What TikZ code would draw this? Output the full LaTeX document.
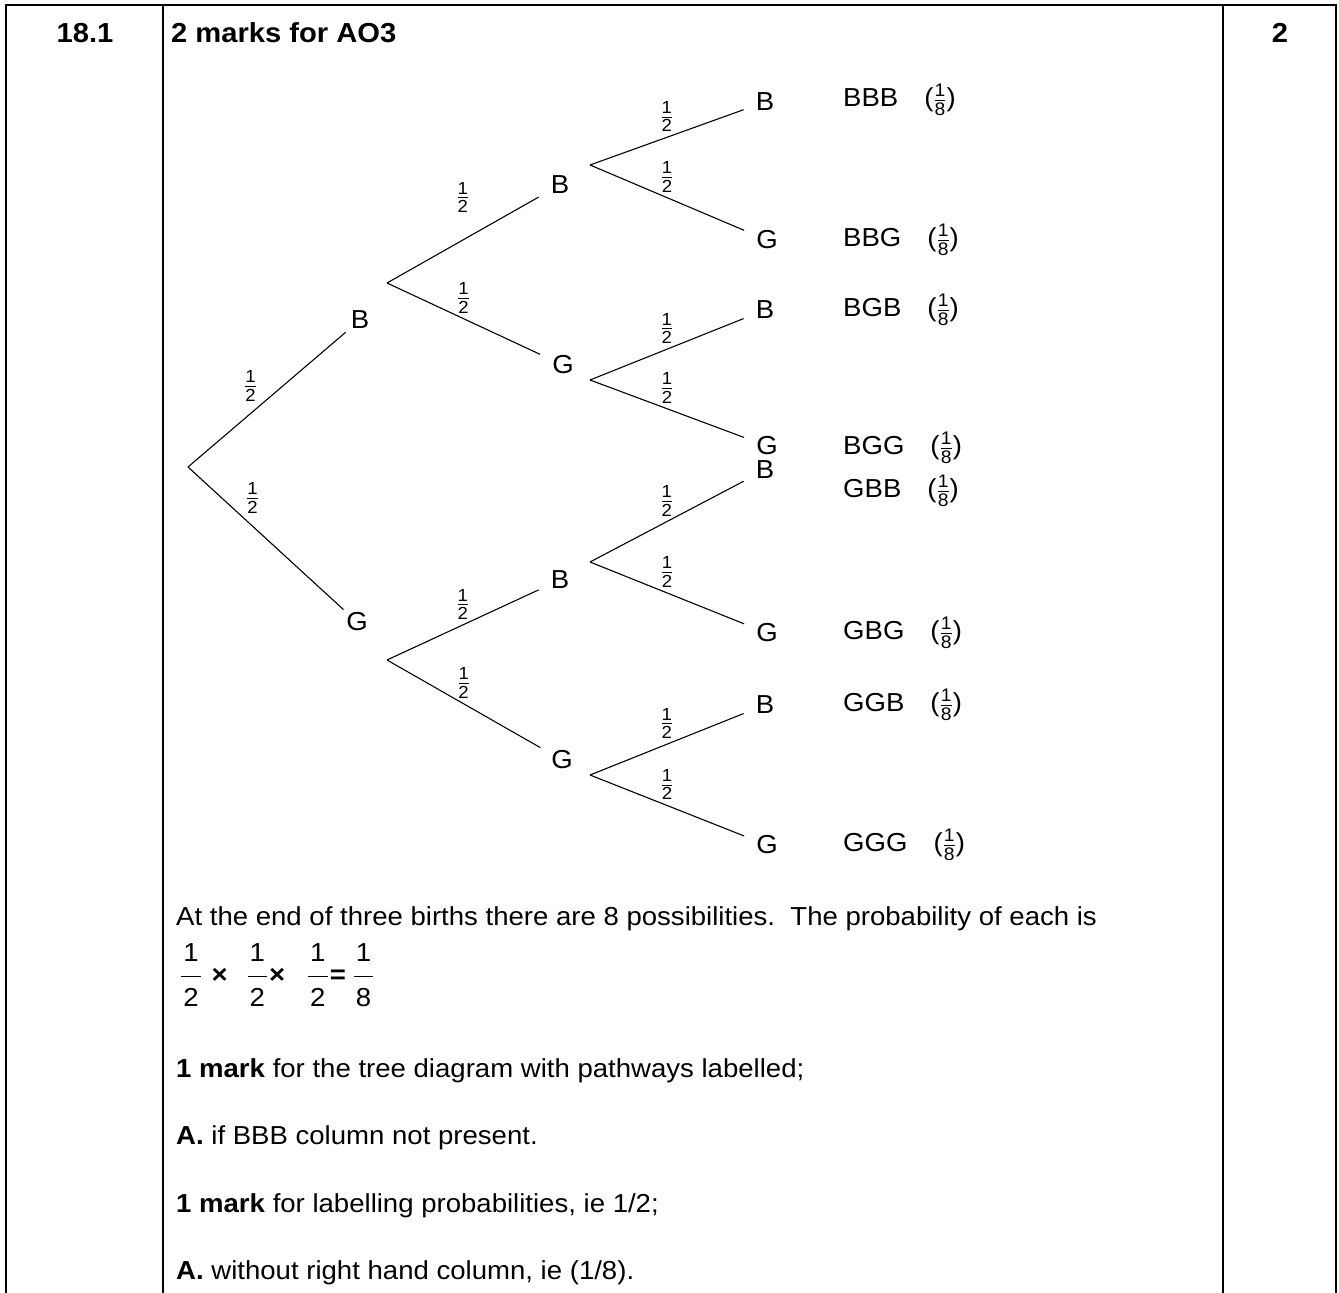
\documentclass[tikz,border=0pt]{standalone}
\usepackage{amsmath}
\usepackage{fontspec}
\setmainfont{Liberation Sans}[FakeStretch=1.06]
\usetikzlibrary{positioning}

\newcommand{\hlf}{$\frac{\text{1}}{\text{2}}$}
\newcommand{\eighth}{$\frac{\text{1}}{\text{8}}$}
\newcommand{\bigfrac}[1]{$\dfrac{\hspace{2pt}\text{1}\rule[-12pt]{0pt}{12pt}\hspace{2pt}}{\hspace{2pt}\rule{0pt}{26pt}\text{#1}\hspace{2pt}}$}

\begin{document}
\begin{tikzpicture}[
  x=1pt, y=-1pt,
  font=\fontsize{26}{31}\selectfont,
  frame/.style={line width=2.3pt},
  edge/.style={line width=1.1pt},
  lbl/.style={inner xsep=12pt, inner ysep=3pt},
  prob/.style={font=\fontsize{25}{30}\selectfont, inner sep=1pt},
  outcome/.style={anchor=west, inner sep=0pt},
  txt/.style={anchor=base west, inner sep=0pt},
  head/.style={anchor=base, inner sep=0pt, font=\fontsize{27.5}{33}\selectfont\bfseries}
]
  \useasboundingbox (0,0) rectangle (1339,1293);

  % table frame
  \draw [frame] (6,1293) -- (6,5) -- (1336,5) -- (1336,1293);
  \draw [frame] (163,5) -- (163,1293);
  \draw [frame] (1223,5) -- (1223,1293);

  \node (qnum) [head] at (85,42) {18.1};
  \node (qhead) [head, anchor=base west] at (171,42) {2 marks for AO3};
  \node (qmark) [head] at (1280,42) {2};

  % tree
  \coordinate (start) at (188,467);
  \node (b) [lbl] at (360,320) {B};
  \node (g) [lbl] at (357,622) {G};
  \coordinate (bfork) at (387,283);
  \coordinate (gfork) at (387,660);

  \node (bb) [lbl] at (560,185) {B};
  \node (bg) [lbl] at (563,365) {G};
  \node (gb) [lbl] at (560,580) {B};
  \node (gg) [lbl] at (562,760) {G};
  \coordinate (bbfork) at (590,165);
  \coordinate (bgfork) at (590,380);
  \coordinate (gbfork) at (590,562);
  \coordinate (ggfork) at (590,775);

  \node (bbb) [lbl] at (765,102) {B};
  \node (bbg) [lbl] at (767,240) {G};
  \node (bgb) [lbl] at (765,310) {B};
  \node (bgg) [lbl] at (767,446) {G};
  \node (gbb) [lbl] at (765,470) {B};
  \node (gbg) [lbl] at (767,633) {G};
  \node (ggb) [lbl] at (765,705) {B};
  \node (ggg) [lbl] at (767,845) {G};

  \draw [edge] (start) -- node [prob, pos=0.46, above left=3pt] {\hlf} (b);
  \draw [edge] (start) -- node [prob, pos=0.35, above right=3pt] {\hlf} (g);

  \draw [edge] (bfork) -- node [prob, above=26pt] {\hlf} (bb);
  \draw [edge] (bfork) -- node [prob, above=4pt] {\hlf} (bg);
  \draw [edge] (gfork) -- node [prob, above=4pt] {\hlf} (gb);
  \draw [edge] (gfork) -- node [prob, above=4pt] {\hlf} (gg);

  \draw [edge] (bbfork) -- node [prob, above=4pt] {\hlf} (bbb);
  \draw [edge] (bbfork) -- node [prob, above=4pt] {\hlf} (bbg);
  \draw [edge] (bgfork) -- node [prob, above=4pt] {\hlf} (bgb);
  \draw [edge] (bgfork) -- node [prob, above=4pt] {\hlf} (bgg);
  \draw [edge] (gbfork) -- node [prob, above=4pt] {\hlf} (gbb);
  \draw [edge] (gbfork) -- node [prob, above=4pt] {\hlf} (gbg);
  \draw [edge] (ggfork) -- node [prob, above=4pt] {\hlf} (ggb);
  \draw [edge] (ggfork) -- node [prob, above=4pt] {\hlf} (ggg);

  % outcomes
  \node (obbb) [outcome] at (843,100) {BBB\hspace{26pt}(\eighth)};
  \node (obbg) [outcome] at (843,240) {BBG\hspace{26pt}(\eighth)};
  \node (obgb) [outcome] at (843,310) {BGB\hspace{26pt}(\eighth)};
  \node (obgg) [outcome] at (843,448) {BGG\hspace{26pt}(\eighth)};
  \node (ogbb) [outcome] at (843,491) {GBB\hspace{26pt}(\eighth)};
  \node (ogbg) [outcome] at (843,633) {GBG\hspace{26pt}(\eighth)};
  \node (oggb) [outcome] at (843,705) {GGB\hspace{26pt}(\eighth)};
  \node (oggg) [outcome] at (843,845) {GGG\hspace{26pt}(\eighth)};

  % explanation
  \node (poss) [txt] at (176,925) {At the end of three births there are 8 possibilities.\ \ The probability of each is};
  \node (calc) [txt] at (180,983)
    {\bigfrac{2}\hspace{9.6pt}\textbf{×}\hspace{18.8pt}\bigfrac{2}\hspace{1pt}\textbf{×}\hspace{21.8pt}\bigfrac{2}\hspace{1pt}\textbf{=}\hspace{6.8pt}\bigfrac{8}};
  \node (mark1) [txt] at (176,1077) {\textbf{1 mark} for the tree diagram with pathways labelled;};
  \node (acc1) [txt] at (176,1144) {\textbf{A.} if BBB column not present.};
  \node (mark2) [txt] at (176,1212) {\textbf{1 mark} for labelling probabilities, ie 1/2;};
  \node (acc2) [txt] at (176,1279) {\textbf{A.} without right hand column, ie (1/8).};
\end{tikzpicture}
\end{document}
